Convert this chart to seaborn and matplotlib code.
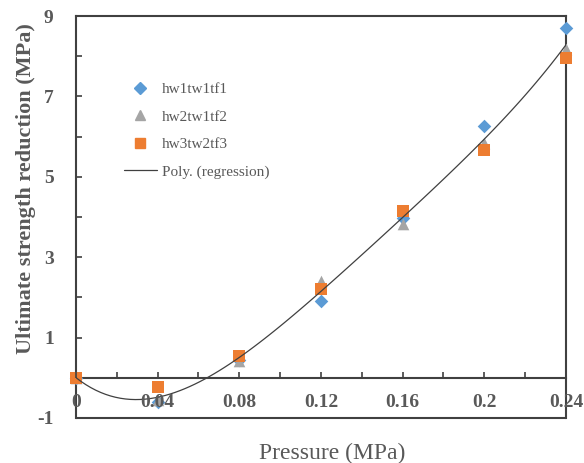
import numpy as np
import pandas as pd
import matplotlib
matplotlib.use("Agg")
import matplotlib.pyplot as plt
from matplotlib.lines import Line2D
from matplotlib.ticker import FixedLocator, FixedFormatter
import seaborn as sns

# Measured strength reduction for each specimen group
pressure = [0.0, 0.04, 0.08, 0.12, 0.16, 0.20, 0.24]
hw1tw1tf1 = [0.0, -0.60, 0.45, 1.91, 3.97, 6.27, 8.71]
hw2tw1tf2 = [0.0, -0.56, 0.41, 2.40, 3.83, 5.85, 8.18]
hw3tw2tf3 = [0.0, -0.23, 0.55, 2.21, 4.16, 5.67, 7.96]

series_names = ["hw1tw1tf1", "hw2tw1tf2", "hw3tw2tf3"]
series_colors = ["#5B9BD5", "#A5A5A5", "#ED7D31"]
series_markers = ["D", "^", "s"]
series_sizes = [48, 70, 70]

x_ticks = [0.0, 0.04, 0.08, 0.12, 0.16, 0.20, 0.24]
x_tick_labels = ["0", "0.04", "0.08", "0.12", "0.16", "0.2", "0.24"]
y_ticks = [-1, 1, 3, 5, 7, 9]
y_tick_labels = ["-1", "1", "3", "5", "7", "9"]

df = pd.DataFrame({
    "pressure": pressure * 3,
    "reduction": hw1tw1tf1 + hw2tw1tf2 + hw3tw2tf3,
    "group": sum([[n] * len(pressure) for n in series_names], []),
})

sns.set_theme(style="white")
plt.rcParams["font.family"] = ["Liberation Serif", "DejaVu Serif"]

axis_col = "#404040"
text_col = "#595959"

fig = plt.figure(figsize=(5.84, 4.63), dpi=100)
ax = fig.add_axes([0.130, 0.0972, 0.839, 0.8682])

for name, col, mk, sz in zip(series_names, series_colors, series_markers, series_sizes):
    sub = df[df["group"] == name]
    sns.scatterplot(data=sub, x="pressure", y="reduction", color=col, marker=mk,
                    s=sz, linewidth=0, ax=ax, clip_on=False, zorder=4, legend=False)

# polynomial regression through all points
sns.regplot(data=df, x="pressure", y="reduction", order=4, ci=None, scatter=False,
            ax=ax, line_kws=dict(color="#404040", lw=0.9, zorder=5))

ax.set_xlim(0, 0.24)
ax.set_ylim(-1, 9)

# frame
for side in ["left", "right", "top"]:
    ax.spines[side].set_color(axis_col)
    ax.spines[side].set_linewidth(1.5)
ax.spines["bottom"].set_position(("data", 0))
ax.spines["bottom"].set_color(axis_col)
ax.spines["bottom"].set_linewidth(1.5)
ax.plot([0, 1], [0, 0], transform=ax.transAxes, color=axis_col, lw=1.5,
        clip_on=False, zorder=3)

ax.xaxis.set_major_locator(FixedLocator(x_ticks))
ax.xaxis.set_major_formatter(FixedFormatter(x_tick_labels))
ax.xaxis.set_minor_locator(FixedLocator(np.arange(0.02, 0.24, 0.04)))
ax.yaxis.set_major_locator(FixedLocator(y_ticks))
ax.yaxis.set_major_formatter(FixedFormatter(y_tick_labels))
ax.yaxis.set_minor_locator(FixedLocator([0, 2, 4, 6, 8]))
ax.xaxis.set_zorder(6)

ax.tick_params(axis="x", which="both", direction="in", length=4, width=1.2,
               color=axis_col, bottom=True, pad=12)
ax.tick_params(axis="x", which="major", labelsize=14, labelcolor=text_col)
ax.tick_params(axis="y", which="both", direction="in", length=4, width=1.2,
               color=axis_col, left=True, pad=16)
ax.tick_params(axis="y", which="major", labelsize=14, labelcolor=text_col)
for lab in ax.get_xticklabels() + ax.get_yticklabels():
    lab.set_fontweight("bold")

ax.set_xlabel("Pressure (MPa)", fontsize=17, color=text_col)
ax.xaxis.set_label_coords(0.524, -0.062)
ax.set_ylabel("Ultimate strength reduction (MPa)", fontsize=16, fontweight="bold",
              color=text_col)
ax.yaxis.set_label_coords(-0.082, 0.572)

handles = [Line2D([], [], ls="none", marker=m, color=c, markersize=ms)
           for m, c, ms in zip(series_markers, series_colors, [6, 7, 7])]
handles.append(Line2D([], [], color="#404040", lw=0.9))
labels = series_names + ["Poly. (regression)"]
leg = ax.legend(handles, labels, loc="upper left", bbox_to_anchor=(0.085, 0.85),
                frameon=False, fontsize=11, handlelength=2.2, handletextpad=0.3,
                labelspacing=0.9, borderaxespad=0)
for t in leg.get_texts():
    t.set_color(text_col)

fig.savefig("out.png", dpi=100)
